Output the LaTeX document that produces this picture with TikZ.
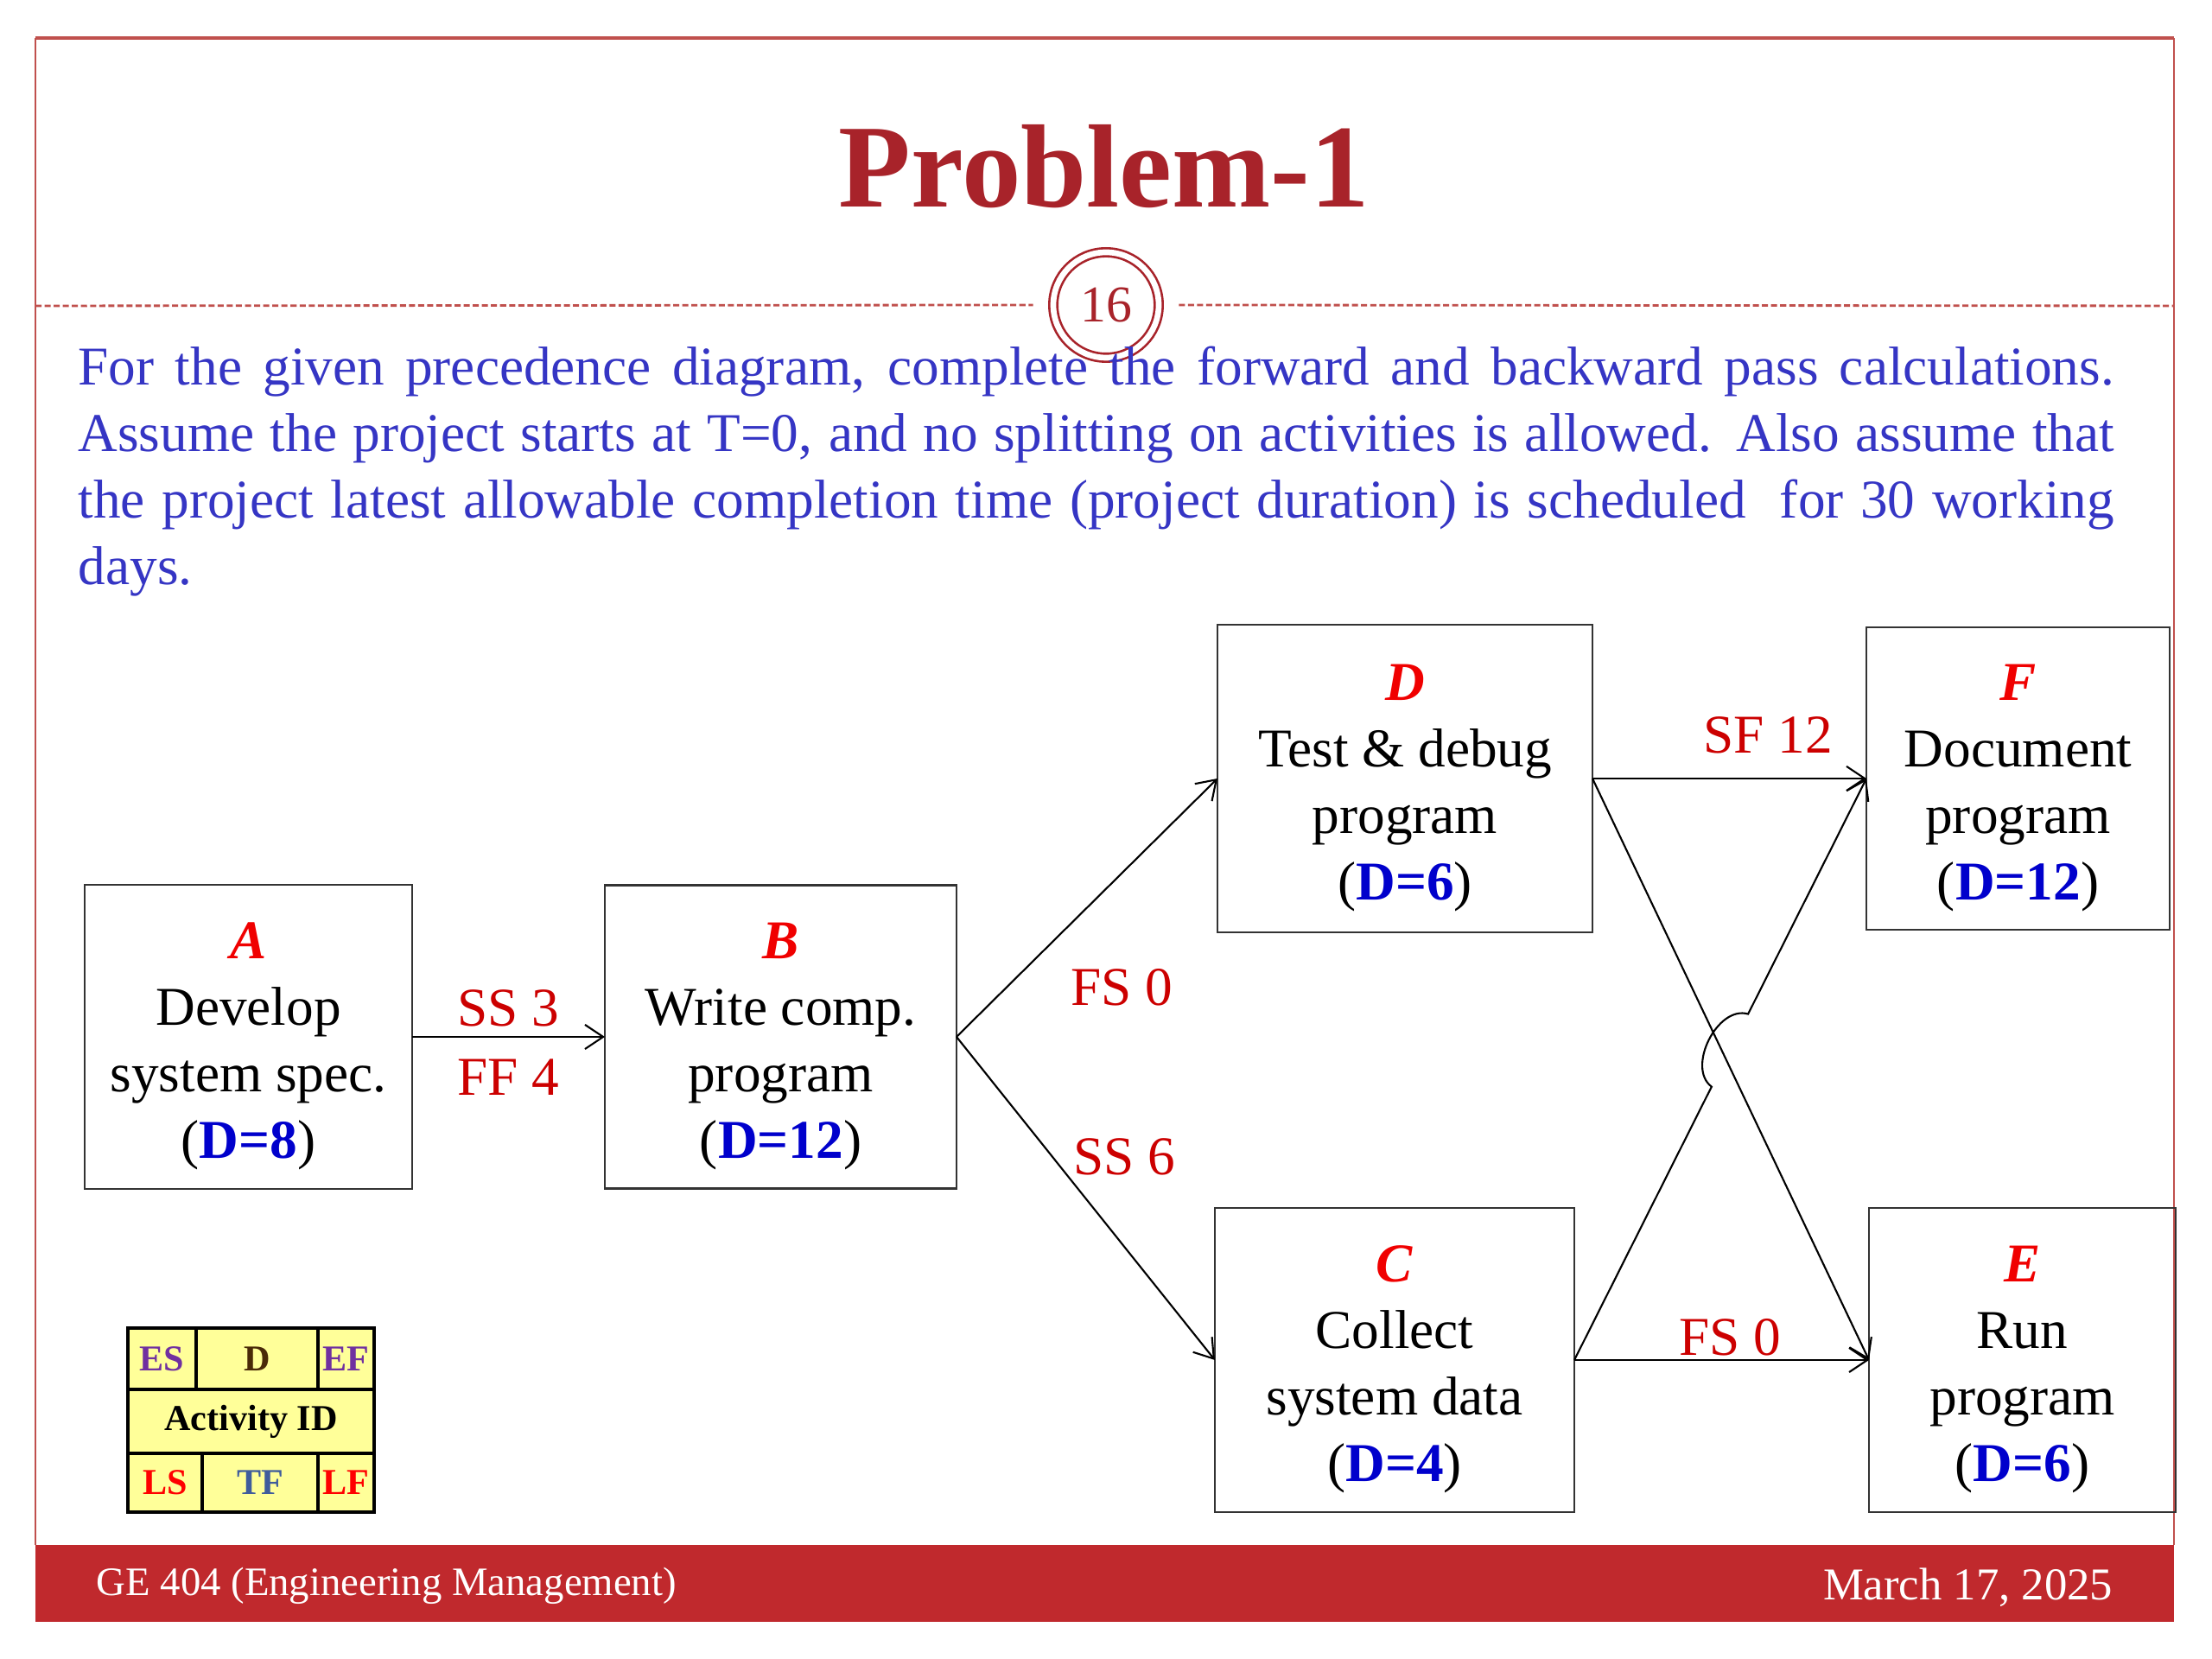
\documentclass[tikz,border=0pt]{standalone}
\usepackage{fontspec}
\setmainfont{Liberation Serif}
\usepackage{tikz}
\usetikzlibrary{arrows.meta,positioning,calc}
\definecolor{titlered}{HTML}{A8232A}
\definecolor{framered}{HTML}{C0504D}
\definecolor{footred}{HTML}{C0292D}
\definecolor{textblue}{HTML}{3535C4}
\definecolor{actred}{HTML}{F00000}
\definecolor{durblue}{HTML}{0000CC}
\definecolor{lblred}{HTML}{CC0000}
\definecolor{legyellow}{HTML}{FFFF99}
\definecolor{espurple}{HTML}{7030A0}
\definecolor{dbrown}{HTML}{4A2A08}
\definecolor{tfblue}{HTML}{3F5C9C}
\newcommand{\act}[1]{\rule{0pt}{18pt}\textcolor{actred}{\textbf{\textit{#1}}}}
\newcommand{\dur}[1]{(\textcolor{durblue}{\textbf{D=#1}})}

\begin{document}
\begin{tikzpicture}[
  box/.style={
    draw=black!80, line width=0.7pt, align=center,
    inner sep=0pt, outer sep=0pt,
    font=\fontsize{18}{21.9}\selectfont
  },
  arr/.style={-{Straight Barb[length=6pt,width=8pt]}, line width=0.6pt},
  lbl/.style={text=lblred, inner sep=3pt, font=\fontsize{18}{21.9}\selectfont},
  cell/.style={
    draw=black, line width=0.9pt, fill=legyellow,
    inner sep=0pt, outer sep=0pt, font=\fontsize{12}{14}\selectfont\bfseries
  }
]
  \useasboundingbox (0,0) rectangle (25.6,19.2);
  \fill[footred] (0.41,0.43) rectangle (25.16,1.32);
  \draw[framered, line width=0.5pt] (0.41,1.32) -- (0.41,18.76);
  \draw[framered, line width=0.5pt] (25.16,1.32) -- (25.16,18.76);
  \draw[framered, line width=1pt] (0.41,18.76) -- (25.16,18.76);

  \node[text=titlered, font=\fontsize{39}{44}\selectfont\bfseries] (title) at (12.78,17.27) {Problem-1};
  \node[circle, draw=titlered, double, double distance=1.9pt, line width=0.75pt,
        minimum size=1.22cm, inner sep=0pt, text=titlered,
        font=\fontsize{17}{20}\selectfont] (pg) at (12.80,15.67) {16};
  \draw[framered, line width=0.8pt, dash pattern=on 2pt off 1pt]
    (0.41,15.66) -- ([xshift=-2.2mm]pg.west);
  \draw[framered, line width=0.8pt, dash pattern=on 2pt off 1pt]
    ([xshift=2.2mm]pg.east) -- (25.16,15.66);

  \node[anchor=base west, text width=23.56cm, align=justify, inner sep=0pt,
        text=textblue, font=\fontsize{18}{21.9}\selectfont] (task) at (0.90,14.74)
    {For the given precedence diagram, complete the forward and backward pass calculations.\linebreak
     Assume the project starts at T=0, and no splitting on activities is allowed. Also assume that\linebreak
     the project latest allowable completion time (project duration) is scheduled\ \ for 30 working\linebreak
     days.};

  \node[box, minimum width=3.79cm, minimum height=3.52cm] (A) at (2.875,7.20)
    {\act{A}\\Develop\\system spec.\\\dur{8}};
  \node[box, minimum width=4.07cm, minimum height=3.51cm, right=2.23cm of A] (B)
    {\act{B}\\Write comp.\\program\\\dur{12}};
  \node[box, minimum width=4.34cm, minimum height=3.56cm] (D) at (16.26,10.19)
    {\act{D}\\Test \& debug\\program\\\dur{6}};
  \node[box, minimum width=3.51cm, minimum height=3.50cm, right=3.17cm of D] (F)
    {\act{F}\\Document\\program\\\dur{12}};
  \node[box, minimum width=4.16cm, minimum height=3.52cm] (C) at (16.14,3.46)
    {\act{C}\\Collect\\system data\\\dur{4}};
  \node[box, minimum width=3.55cm, minimum height=3.52cm, right=3.41cm of C] (E)
    {\act{E}\\Run\\program\\\dur{6}};

  \draw[arr] (A.east) -- (B.west)
    node[lbl, midway, above=0pt] (ss3) {SS 3}
    node[lbl, midway, below=4pt] (ff4) {FF 4};
  \draw[arr] (B.east) -- (D.west);
  \draw[arr] (B.east) -- (C.west);
  \draw[arr] (D.east) -- (F.west);
  \draw[arr] (D.east) -- (E.west);
  \draw[arr] (C.east) -- (E.west);
  \draw[arr] (C.east) -- ($(C.east)!0.47!(F.west)$)
    to[bend left=80] ($(C.east)!0.595!(F.west)$) -- (F.west);
  \node[lbl] (fs0a) at (12.98,7.77) {FS 0};
  \node[lbl] (ss6) at (13.01,5.81) {SS 6};
  \node[lbl] (sf12) at (20.46,10.69) {SF 12};
  \node[lbl] (fs0b) at (20.02,3.72) {FS 0};

  \node[cell, anchor=north west, minimum width=0.79cm, minimum height=0.71cm, text=espurple] (es) at (1.48,3.83) {ES};
  \node[cell, minimum width=1.41cm, minimum height=0.71cm, text=dbrown, right=0pt of es] (dd) {D};
  \node[cell, minimum width=0.65cm, minimum height=0.71cm, text=espurple, right=0pt of dd] (ef) {EF};
  \node[cell, anchor=north west, minimum width=2.85cm, minimum height=0.74cm] (aid) at (es.south west) {Activity ID};
  \node[cell, anchor=north west, minimum width=0.86cm, minimum height=0.68cm, text=red] (ls) at (aid.south west) {LS};
  \node[cell, minimum width=1.34cm, minimum height=0.68cm, text=tfblue, right=0pt of ls] (tf) {TF};
  \node[cell, minimum width=0.65cm, minimum height=0.68cm, text=red, right=0pt of tf] (lf) {LF};

  \node[anchor=west, inner sep=0pt, text=white, font=\fontsize{13.3}{16}\selectfont] (course) at (1.11,0.85) {GE 404 (Engineering Management)};
  \node[anchor=east, inner sep=0pt, text=white, font=\fontsize{15}{18}\selectfont] (date) at (24.46,0.83) {March 17, 2025};
\end{tikzpicture}
\end{document}
